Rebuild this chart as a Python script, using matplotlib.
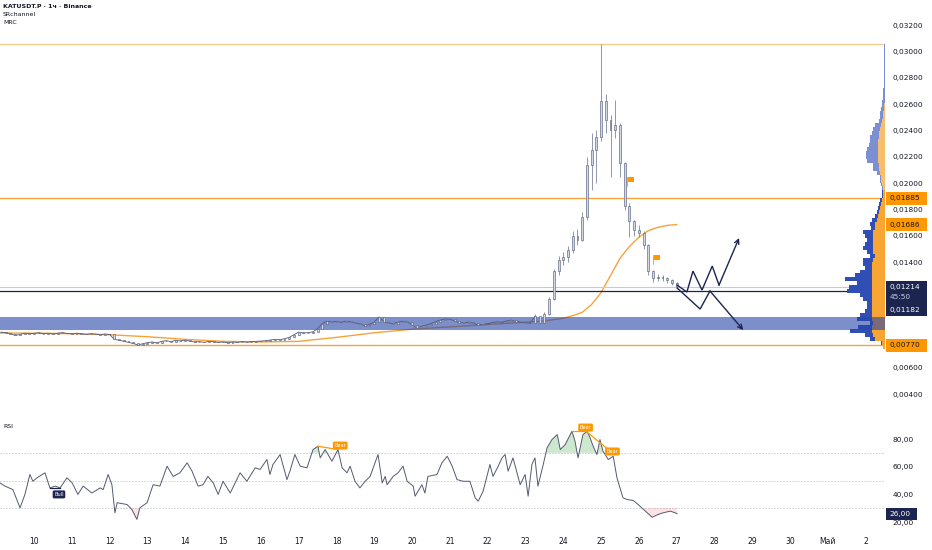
import numpy as np
import matplotlib
matplotlib.use("Agg")
import matplotlib.pyplot as plt
from matplotlib.patches import Rectangle
from matplotlib.ticker import FuncFormatter

plt.rcParams['font.family'] = ['DejaVu Sans']

######## DATA ########

# 3h candles, time in days of April (1 May = 31)
t_start = 9.125
t_step = 0.125
closes = [
    0.00870, 0.00866, 0.00858, 0.00845, 0.00852, 0.00862, 0.00858,
    0.00860, 0.00866, 0.00858, 0.00862, 0.00855, 0.00862, 0.00866, 0.00860,
    0.00856, 0.00862, 0.00858, 0.00852, 0.00858, 0.00855, 0.00850, 0.00856,
    0.00852, 0.00815, 0.00808, 0.00800, 0.00792, 0.00784, 0.00772, 0.00782,
    0.00790, 0.00795, 0.00788, 0.00800, 0.00805, 0.00798, 0.00808, 0.00802,
    0.00810, 0.00800, 0.00795, 0.00798, 0.00792, 0.00800, 0.00796, 0.00792,
    0.00795, 0.00790, 0.00795, 0.00792, 0.00798, 0.00794, 0.00798, 0.00800,
    0.00802, 0.00805, 0.00810, 0.00815, 0.00812, 0.00820, 0.00830, 0.00850,
    0.00870, 0.00862, 0.00866, 0.00872, 0.00895, 0.00935, 0.00952, 0.00948,
    0.00950, 0.00945, 0.00952, 0.00948, 0.00940, 0.00932, 0.00918, 0.00930,
    0.00945, 0.00985, 0.00950, 0.00940, 0.00935, 0.00945, 0.00952, 0.00948,
    0.00925, 0.00902, 0.00915, 0.00924, 0.00935, 0.00950, 0.00962, 0.00970,
    0.00968, 0.00955, 0.00942, 0.00940, 0.00945, 0.00938, 0.00924, 0.00928,
    0.00935, 0.00942, 0.00948, 0.00945, 0.00955, 0.00962, 0.00950, 0.00945,
    0.00942, 0.00938, 0.00990, 0.00940, 0.01010, 0.01120, 0.01330, 0.01420,
    0.01440, 0.01490, 0.01600, 0.01570, 0.01740, 0.02140, 0.02250, 0.02350,
    0.02620, 0.02480, 0.02400, 0.02440, 0.02150, 0.01830, 0.01710, 0.01645,
    0.01620, 0.01530, 0.01330, 0.01280, 0.01290, 0.01280, 0.01265, 0.01242,
    0.01220,
]
# wicks of the pump candles (from index 113 on)
spike_from = 113
spike_hi = [0.01010, 0.00995, 0.01020, 0.01140, 0.01350, 0.01450, 0.01480, 0.01520,
            0.01640, 0.01650, 0.01780, 0.02200, 0.02380, 0.02400, 0.03056, 0.02680,
            0.02520, 0.02630, 0.02460, 0.02160, 0.01850, 0.01720, 0.01680, 0.01640,
            0.01540, 0.01340, 0.01310, 0.01305, 0.01290, 0.01270, 0.01250]
spike_lo = [0.00935, 0.00930, 0.00935, 0.01000, 0.01110, 0.01300, 0.01380, 0.01400,
            0.01470, 0.01530, 0.01560, 0.01720, 0.01950, 0.02000, 0.02320, 0.02380,
            0.02050, 0.02340, 0.02050, 0.01800, 0.01590, 0.01600, 0.01590, 0.01500,
            0.01300, 0.01250, 0.01260, 0.01255, 0.01245, 0.01225, 0.01205]

# MRC mean line
mrc_t = [9.1, 10, 11, 12, 13, 14, 15, 16, 17, 18, 19, 20, 21, 22, 23, 23.5, 24,
         24.25, 24.5, 24.75, 25, 25.25, 25.5, 25.75, 26, 26.25, 26.5, 26.75, 27]
mrc_p = [0.00863, 0.00862, 0.00858, 0.00850, 0.00835, 0.00815, 0.00800, 0.00795,
         0.00800, 0.00830, 0.00865, 0.00892, 0.00910, 0.00928, 0.00945, 0.00955,
         0.00975, 0.00995, 0.01020, 0.01080, 0.01170, 0.01300, 0.01430, 0.01520,
         0.01590, 0.01640, 0.01665, 0.01680, 0.01686]

# levels
lvl_top = 0.03056
lvl_mid = 0.01885
lvl_low = 0.00770
lvl_navy = 0.01182
last_price = 0.01214
zone_lo, zone_hi = 0.00886, 0.00988

# volume profile (rows of 0.0003 from 0.0076)
vp_first = 0.0076
vp_step = 0.0003
vp_total = [2, 4, 15, 20, 35, 27, 15, 28, 25, 20, 18, 18, 22, 25, 38, 36, 28, 40, 30, 25,
            20, 22, 22, 15, 18, 22, 20, 18, 20, 22, 14, 15, 13, 10, 8, 7, 6, 5, 3, 3,
            3, 4, 5, 5, 8, 12, 12, 18, 19, 19, 18, 16, 15, 15, 13, 12, 10, 6, 5, 5,
            4, 3, 3, 2, 2, 2, 1.5, 1.5, 1, 1, 1, 1, 1, 1, 1, 1, 1]
vp_orange = [2, 3, 10, 12, 13, 13, 12, 13, 13, 13, 13, 13, 13, 13, 13, 13, 13, 13, 13, 13,
             13, 13, 12, 10, 12, 12, 12, 12, 12, 12, 10, 10, 8, 7, 6, 5, 4, 3, 2, 2,
             2, 3, 4, 4, 5, 6, 6, 7, 7, 7, 7, 7, 7, 6, 6, 5, 4, 3, 2, 2,
             1, 1, 0, 0, 0, 0, 0, 0, 0, 0, 0, 0, 0, 0, 0, 0, 0]
vp_value_area_top = 0.0195

# signal flags on the chart
flag_t = [25.68, 26.38]
flag_p = [0.02045, 0.01455]

# projected paths
up_t = [27.01, 27.27, 27.43, 27.67, 27.94, 28.12, 28.65]
up_p = [0.01227, 0.01174, 0.01333, 0.01189, 0.01371, 0.01227, 0.01584]
dn_t = [27.01, 27.62, 27.88, 28.76]
dn_p = [0.01205, 0.01045, 0.01182, 0.00886]

# RSI
rsi_t = [9.10, 9.23, 9.44, 9.63, 9.76, 9.89, 9.97, 10.08, 10.29, 10.42, 10.56, 10.69,
         10.87, 11.01, 11.16, 11.30, 11.53, 11.75, 11.83, 11.96, 12.06, 12.14, 12.20,
         12.46, 12.59, 12.72, 12.80, 12.99, 13.15, 13.33, 13.52, 13.68, 13.86, 14.05,
         14.18, 14.34, 14.47, 14.60, 14.74, 14.87, 15.00, 15.19, 15.32, 15.45, 15.63,
         15.85, 15.98, 16.16, 16.24, 16.32, 16.51, 16.69, 16.77, 16.90, 17.04, 17.22,
         17.38, 17.51, 17.57, 17.70, 17.88, 18.04, 18.15, 18.28, 18.36, 18.49, 18.62,
         18.76, 18.89, 19.10, 19.21, 19.29, 19.34, 19.50, 19.63, 19.76, 19.87, 20.03,
         20.08, 20.26, 20.34, 20.42, 20.66, 20.79, 20.93, 21.06, 21.19, 21.35, 21.53,
         21.67, 21.75, 21.88, 22.06, 22.14, 22.28, 22.38, 22.46, 22.54, 22.67, 22.86,
         22.99, 23.07, 23.17, 23.25, 23.33, 23.47, 23.57, 23.70, 23.84, 23.92, 24.05,
         24.23, 24.31, 24.39, 24.52, 24.63, 24.71, 24.79, 24.89, 24.97, 25.05, 25.19,
         25.32, 25.42, 25.58, 25.69, 25.85, 25.98, 26.22, 26.35, 26.51, 26.64, 26.83,
         26.96, 27.01]
rsi_v = [48.3, 46.0, 43.5, 30.3, 40.0, 54.4, 49.5, 52.0, 55.6, 44.7, 46.0, 44.7,
         52.0, 48.3, 40.0, 46.0, 41.0, 44.7, 43.5, 54.4, 47.0, 26.7, 34.0,
         32.7, 29.0, 22.0, 30.3, 34.0, 47.0, 46.0, 60.4, 53.0, 55.6, 62.8,
         56.8, 46.0, 47.0, 53.0, 48.3, 40.0, 49.5, 41.0, 48.3, 55.6, 49.5,
         59.2, 58.0, 65.2, 54.4, 61.6, 68.8, 50.7, 56.8, 68.8, 60.4, 59.2,
         72.4, 74.8, 66.4, 72.4, 64.0, 72.4, 59.2, 55.6, 60.4, 49.5, 44.7,
         49.5, 53.0, 68.8, 48.3, 53.0, 47.0, 53.0, 55.6, 60.4, 49.5, 46.0,
         38.7, 47.0, 41.0, 53.0, 54.4, 62.8, 67.6, 60.4, 50.7, 49.5, 49.5,
         37.5, 35.1, 42.3, 61.6, 53.0, 60.4, 66.4, 68.8, 56.8, 66.4, 47.0,
         54.4, 38.7, 61.6, 66.4, 46.0, 61.6, 73.6, 79.6, 83.2, 72.4, 76.0,
         85.6, 78.4, 66.4, 83.2, 85.6, 80.8, 74.8, 68.8, 79.6, 71.2, 65.2,
         67.6, 52.0, 37.5, 36.3, 35.6, 32.7, 26.7, 23.5, 25.5, 26.7, 27.9,
         26.7, 26.0]
rsi_last = 26.00

# divergence labels: (line x0, y0, x1, y1, label x, label y)
bear_marks = [(17.51, 74.8, 18.04, 72.4, 18.10, 75.3),
              (24.23, 85.6, 24.63, 85.6, 24.59, 88.3),
              (24.63, 85.0, 25.19, 72.4, 25.30, 71.0)]
bull_marks = [(10.42, 44.8, 10.69, 44.8, 10.66, 40.0)]

day_pos = list(range(10, 33))
day_lbl = [str(d) for d in range(10, 31)] + ['Май', '2']
# 0.008 / 0.010 / 0.012 sit under the price tags
price_ticks = [0.004, 0.006, 0.014, 0.016, 0.018, 0.020,
               0.022, 0.024, 0.026, 0.028, 0.030, 0.032]

######## STYLE ########
W, H = 932, 550
ORANGE = '#f7a23a'
NAVY = '#1c2550'
TXT = '#131722'
x_left, x_right = 9.10, 32.51

fig = plt.figure(figsize=(W / 100, H / 100), dpi=100)
fig.patch.set_facecolor('white')
ax = fig.add_axes([0, 1 - 410 / H, 885 / W, 410 / H])
rax = fig.add_axes([0, 1 - 532 / H, 885 / W, 119 / H])

for a in (ax, rax):
    a.set_xlim(x_left, x_right)
    for s in a.spines.values():
        s.set_visible(False)
    a.yaxis.tick_right()
    a.tick_params(axis='y', length=0, pad=5.5, labelsize=5.3, labelcolor=TXT)
ax.set_ylim(0.00279, 0.03390)
rax.set_ylim(12.85, 98.8)

ax.set_xticks([])
ax.set_yticks(price_ticks)
ax.yaxis.set_major_formatter(FuncFormatter(lambda v, p: f"{v:.5f}".replace('.', ',')))
rax.set_yticks([20, 40, 60, 80])
rax.yaxis.set_major_formatter(FuncFormatter(lambda v, p: f"{v:.2f}".replace('.', ',')))
rax.set_xticks(day_pos)
rax.set_xticklabels(day_lbl)
rax.tick_params(axis='x', length=0, pad=3.5, labelsize=5.5, labelcolor=TXT)

px_day = 885 / (x_right - x_left)

######## MAIN PANEL ########
t = t_start + t_step * np.arange(len(closes))
c = np.array(closes)
o = np.concatenate([[c[0]], c[:-1]])
hi = np.maximum(o, c)
lo = np.minimum(o, c)
hi[spike_from:spike_from + len(spike_hi)] = spike_hi
lo[spike_from:spike_from + len(spike_lo)] = spike_lo

# volume profile on the right
vp_y = vp_first + vp_step * np.arange(len(vp_total))
upper = vp_y > vp_value_area_top
ax.barh(vp_y, -np.array(vp_total) / px_day, left=x_right, height=vp_step,
        color=np.where(upper, '#7d8fd3', '#2f4fb6'), lw=0, zorder=2.4)
ax.barh(vp_y, -np.array(vp_orange) / px_day, left=x_right, height=vp_step,
        color=np.where(upper, '#f9bd6e', '#f9a533'), lw=0, zorder=2.5)

ax.plot(mrc_t, mrc_p, color=ORANGE, lw=1.0, zorder=2)
ax.axhspan(zone_lo, zone_hi, color='#2544a8', alpha=0.6, lw=0, zorder=3)

ax.axhline(lvl_top, color='#f9cc90', lw=1.0, zorder=2)
ax.axhline(lvl_mid, color=ORANGE, lw=1.0, zorder=2)
ax.axhline(lvl_low, color=ORANGE, lw=1.0, zorder=2)
ax.axhline(last_price, color='#c3cadb', lw=0.8, zorder=2)
ax.axhline(lvl_navy, color=NAVY, lw=0.9, zorder=2)

# dense hourly candles of the quiet part read as one jagged line at this scale
ax.plot(t[:spike_from + 1], c[:spike_from + 1], color='#4f5976', lw=0.6, zorder=3.5)
ax.vlines(t, lo, hi, color='#737c96', lw=0.55, zorder=4)
ax.bar(t, np.maximum(np.abs(c - o), 0.00003), bottom=np.minimum(o, c), width=0.05,
       color='#d3d7e2', edgecolor='#5b6583', linewidth=0.45, zorder=5)

for ft, fp in zip(flag_t, flag_p):
    ax.add_patch(Rectangle((ft + 0.02, fp - 0.00036), 0.17, 0.00036,
                           fc='#ff9800', ec='none', zorder=6))
    ax.plot([ft, ft], [fp - 0.0007, fp], color='#ff9800', lw=0.6, zorder=6)

for xs, ys in ((up_t, up_p), (dn_t, dn_p)):
    ax.plot(xs[:-1], ys[:-1], color=NAVY, lw=1.0, zorder=6, solid_joinstyle='miter')
    ax.annotate('', xy=(xs[-1], ys[-1]), xytext=(xs[-2], ys[-2]),
                arrowprops=dict(arrowstyle='->', color=NAVY, lw=1.0,
                                shrinkA=0, shrinkB=0, mutation_scale=8), zorder=6)

######## RSI PANEL ########
rt = np.array(rsi_t)
rv = np.array(rsi_v)
for lv in (70, 50, 30):
    rax.axhline(lv, color='#a3a7b1', lw=0.6, ls=(0, (1.2, 2.4)), zorder=1)
rax.fill_between(rt, rv, 70, where=rv > 70, interpolate=True, color='#4caf50',
                 alpha=0.28, lw=0, zorder=2)
rax.fill_between(rt, rv, 30, where=rv < 30, interpolate=True, color='#f23645',
                 alpha=0.15, lw=0, zorder=2)
rax.plot(rt, rv, color='#545a6f', lw=0.7, zorder=3)

for x0, y0, x1, y1, lx, ly in bear_marks:
    rax.plot([x0, x1], [y0, y1], color='#ff9800', lw=0.9, zorder=4)
    rax.text(lx, ly, 'Bear', fontsize=3.6, color='white', ha='center', va='center', zorder=5,
             bbox=dict(boxstyle='round,pad=0.3', fc='#ff9800', ec='none'))
for x0, y0, x1, y1, lx, ly in bull_marks:
    rax.plot([x0, x1], [y0, y1], color=NAVY, lw=0.9, zorder=4)
    rax.text(lx, ly, 'Bull', fontsize=3.6, color='white', ha='center', va='center', zorder=5,
             bbox=dict(boxstyle='round,pad=0.3', fc=NAVY, ec='none'))

######## TEXTS AND PRICE TAGS ########
fig.text(3 / W, 1 - 7 / H, 'KATUSDT.P · 1ч · Binance', fontsize=4.5, color=TXT,
         va='center', fontweight='bold')
fig.text(3 / W, 1 - 15 / H, 'SRchannel', fontsize=4.5, color=TXT, va='center')
fig.text(3 / W, 1 - 23 / H, 'MRC', fontsize=4.5, color=TXT, va='center')
fig.text(3 / W, 1 - 427 / H, 'RSI', fontsize=4.5, color=TXT, va='center')

ov = fig.add_axes([0, 0, 1, 1], zorder=20)
ov.set_xlim(0, W)
ov.set_ylim(H, 0)
ov.axis('off')
ov.patch.set_alpha(0)


def ypix(a, v):
    return H - a.transData.transform((x_left, v))[1]


def tag(yc, text, fc, tc, h=13):
    ov.add_patch(Rectangle((886, yc - h / 2), 41, h, fc=fc, ec='none'))
    ov.text(890, yc, text, fontsize=5.3, color=tc, va='center', ha='left')


tag(ypix(ax, lvl_mid), '0,01885', '#ff9800', TXT)
tag(ypix(ax, mrc_p[-1]), '0,01686', '#ff9800', TXT)
tag(ypix(ax, lvl_low), '0,00770', '#ff9800', TXT)
y_last = ypix(ax, last_price)
ov.add_patch(Rectangle((886, y_last - 6), 41, 35, fc=NAVY, ec='none'))
ov.text(890, y_last, '0,01214', fontsize=5.3, color='white', va='center')
ov.text(890, y_last + 10, '45:50', fontsize=5.3, color='#c9cfe2', va='center')
ov.text(890, y_last + 23, '0,01182', fontsize=5.3, color='white', va='center')
y_r = ypix(rax, rsi_last)
ov.add_patch(Rectangle((886, y_r - 6), 31, 12, fc=NAVY, ec='none'))
ov.text(889, y_r, '26,00', fontsize=5.3, color='white', va='center')

fig.savefig('out.png', dpi=100)
